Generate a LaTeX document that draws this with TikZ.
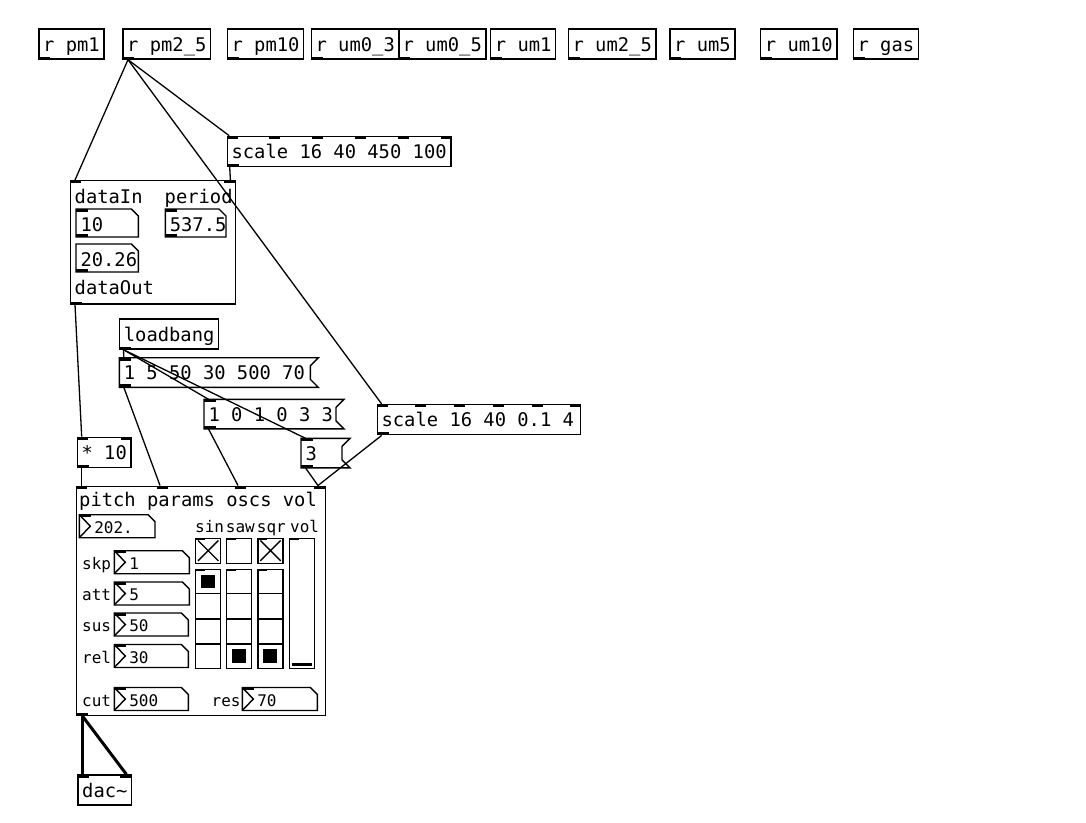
\documentclass[tikz,border=0pt]{standalone}
\usepackage{fontspec}
\usetikzlibrary{calc}
\newfontfamily\pdmono{DejaVu Sans Mono}
\newcommand\fbig{\pdmono\fontsize{18.8pt}{22pt}\selectfont}
\newcommand\fsmall{\pdmono\fontsize{16pt}{19pt}\selectfont}
\newcommand\fnum{\pdmono\fontsize{16pt}{19pt}\selectfont}
\newcommand\wbox[2]{\makebox[#1][l]{#2}}
\tikzset{
  obj/.style={draw, line width=1.4pt, anchor=north west, inner xsep=4.2pt, inner ysep=4pt, text height=18pt, text depth=4pt, font=\fbig},
  msgt/.style={anchor=north west, outer sep=0pt, inner xsep=4.5pt, inner ysep=4pt, text height=18pt, text depth=3.6pt, font=\fbig},
  atomt/.style={anchor=north west, outer sep=0pt, inner xsep=4.5pt, inner ysep=4pt, text height=18pt, text depth=2pt, font=\fbig},
  nbxt/.style={anchor=north west, outer sep=0pt, inner xsep=15pt, inner ysep=2pt, text height=16.8pt, text depth=2.2pt, font=\fnum},
  lbl/.style={anchor=base west, inner sep=0pt, font=\fbig},
  slbl/.style={anchor=base west, inner sep=0pt, font=\fsmall},
  gop/.style={draw, line width=1.4pt, anchor=north west, inner sep=0pt},
  gui/.style={draw, line width=1.4pt, anchor=north west, inner sep=0pt},
  bord/.style={line width=1.4pt},
  wire/.style={line width=1.3pt},
  sigwire/.style={line width=3pt},
}
\newcommand\msgshape[1]{\draw[bord] (#1.north west) -- ($(#1.north east)+(8,0)$) -- ($(#1.north east)+(0,8)$) -- ($(#1.south east)+(0,-8)$) -- ($(#1.south east)+(8,0)$) -- (#1.south west) -- cycle;}
\newcommand\atomshape[1]{\draw[bord] (#1.north west) -- ($(#1.north east)+(-7,0)$) -- ($(#1.north east)+(0,7)$) -- (#1.south east) -- (#1.south west) -- cycle;}
\newcommand\nbxshape[1]{\atomshape{#1}\draw[bord] (#1.north west) -- ($(#1.west)+(11,0)$) -- (#1.south west);\fill (#1.north west) rectangle ++(12,2.5);}
\newcommand\pdinl[2]{\fill ($(#1.north west)+(#2,0)$) rectangle ++(11,3);}
\newcommand\pdoutl[1]{\fill (#1.south west) rectangle ++(12,-3);}
\begin{document}
\begin{tikzpicture}[x=1pt,y=-1pt]
\useasboundingbox (0,0) rectangle (1086,822);
\fill[white] (0,0) rectangle (1086,822);

% ---------- top row of receives
\node[obj] (pm1) at (38.3,28.3) {r pm1};
\node[obj] (pm25) at (122.3,28.3) {r pm2\_5};
\node[obj] (pm10) at (226.7,28.3) {r pm10};
\node[obj] (um03) at (310.7,28.3) {r um0\_3};
\node[obj] (um05) at (397.7,28.3) {r um0\_5};
\node[obj] (um1) at (490,28.3) {r um1};
\node[obj] (um25) at (567.7,28.3) {r um2\_5};
\node[obj] (um5) at (669.3,28.3) {r um5};
\node[obj] (um10) at (760,28.3) {r um10};
\node[obj] (gas) at (852.7,28.3) {r gas};
\foreach \n in {pm1,pm25,pm10,um03,um05,um1,um25,um5,um10,gas} {\pdoutl{\n}}

% ---------- scale A
\node[obj] (sA) at (226.7,135.7) {scale 16 40 450 100};
\foreach \i in {0,...,5} {\fill ($(sA.north west)!\i/5!(sA.north east)+(-2.2*\i,0)$) rectangle ++(11,3);}
\pdoutl{sA}

% ---------- upper GOP
\node[gop, minimum width=165pt, minimum height=123.3pt] (gA) at (70,180) {};
\pdinl{gA}{0}\pdinl{gA}{154}\pdoutl{gA}
\node[lbl] (lin) at (74.5,203.3) {dataIn};
\node[lbl] (lper) at (164.5,203.3) {period};
\node[lbl] (lout) at (74.5,294) {dataOut};
\node[atomt] (nA) at (76,209) {\wbox{53.3pt}{10}};
\atomshape{nA}\fill (nA.north west) rectangle ++(12,3);\fill (nA.south west) rectangle ++(12,-3);
\node[atomt] (nB) at (165.3,209) {\wbox{51.7pt}{537.5}};
\atomshape{nB}\fill (nB.north west) rectangle ++(12,3);\fill (nB.south west) rectangle ++(12,-3);
\node[atomt] (nC) at (76,244) {\wbox{53.3pt}{20.26}};
\atomshape{nC}\fill (nC.south west) rectangle ++(12,-3);

% ---------- loadbang and messages
\node[obj] (lb) at (119,318.3) {loadbang};
\pdoutl{lb}
\node[msgt] (mA) at (119.3,357.7) {\wbox{182pt}{1 5 50 30 500 70}};
\msgshape{mA}\fill (mA.north west) rectangle ++(12,3);\fill (mA.south west) rectangle ++(12,-3);
\node[msgt] (mB) at (204,399.3) {\wbox{123pt}{1 0 1 0 3 3}};
\msgshape{mB}\fill (mB.north west) rectangle ++(12,3);\fill (mB.south west) rectangle ++(12,-3);
\node[msgt] (mC) at (301,438.3) {\wbox{32pt}{3}};
\msgshape{mC}\fill (mC.north west) rectangle ++(12,3);\fill (mC.south west) rectangle ++(12,-3);

% ---------- * 10 and scale B
\node[obj] (tm) at (76.7,436.7) {* 10};
\pdinl{tm}{0}\fill ($(tm.north east)+(-11,0)$) rectangle ++(11,3);\pdoutl{tm}
\node[obj, minimum width=203.3pt] (sB) at (376.7,404) {\wbox{194.9pt}{scale 16 40 0.1 4}};
\foreach \i in {0,...,5} {\fill ($(sB.north west)!\i/5!(sB.north east)+(-2.2*\i,0)$) rectangle ++(11,3);}
\pdoutl{sB}

% ---------- lower GOP
\node[gop, minimum width=249pt, minimum height=229.5pt] (gB) at (76,485.5) {};
\pdinl{gB}{0}\pdinl{gB}{81}\pdinl{gB}{159}\pdinl{gB}{238}
\fill (gB.south west) rectangle ++(12.3,-3.5);
\node[lbl] (lpitch) at (79,506.5) {pitch params oscs vol};
\node[nbxt] (n202) at (79.3,514.7) {\wbox{45.7pt}{202.}};
\nbxshape{n202}
\node[nbxt] (nskp) at (114.3,550.7) {\wbox{45pt}{1}};
\nbxshape{nskp}
\node[nbxt] (natt) at (114.3,582) {\wbox{45pt}{5}};
\nbxshape{natt}
\node[nbxt] (nsus) at (114.3,613) {\wbox{44pt}{50}};
\nbxshape{nsus}
\node[nbxt] (nrel) at (114.3,644.5) {\wbox{44pt}{30}};
\nbxshape{nrel}
\node[nbxt] (ncut) at (114.3,687.5) {\wbox{44pt}{500}};
\nbxshape{ncut}
\node[nbxt] (nres) at (242.3,687.5) {\wbox{45pt}{70}};
\nbxshape{nres}
\node[slbl] (lskp) at (82,569.5) {skp};
\node[slbl] (latt) at (82,600.8) {att};
\node[slbl] (lsus) at (82,631.8) {sus};
\node[slbl] (lrel) at (82,663.3) {rel};
\node[slbl] (lcut) at (82,706.3) {cut};
\node[slbl] (lres) at (211.5,706.3) {res};
\node[slbl] (lsin) at (195,532) {sin};
\node[slbl] (lsaw) at (225.7,532) {saw};
\node[slbl] (lsqr) at (256.7,532) {sqr};
\node[slbl] (lvol) at (290,532) {vol};

% toggles
\node[gui, minimum width=25pt, minimum height=25pt] (tsin) at (195,537.5) {};
\node[gui, minimum width=25pt, minimum height=25pt] (tsaw) at (226,537.5) {};
\node[gui, minimum width=25pt, minimum height=25pt] (tsqr) at (257.3,537.5) {};
\foreach \t in {tsin,tsaw,tsqr} {\fill (\t.north west) rectangle ++(10,2.5);}
\foreach \t in {tsin,tsqr} {\draw[bord] ($(\t.north west)+(3,3)$) -- ($(\t.south east)+(-3,-3)$) ($(\t.north east)+(-3,3)$) -- ($(\t.south west)+(3,-3)$);}

% radios
\node[gui, minimum width=25pt, minimum height=99.5pt] (rsin) at (195,568.5) {};
\node[gui, minimum width=25pt, minimum height=99.5pt] (rsaw) at (226,568.5) {};
\node[gui, minimum width=25pt, minimum height=99.5pt] (rsqr) at (257.3,568.5) {};
\foreach \r in {rsin,rsaw,rsqr} {
  \fill (\r.north west) rectangle ++(10,2.5);
  \foreach \f in {0.25,0.5,0.75} {\draw[bord] ($(\r.north west)!\f!(\r.south west)$) -- ($(\r.north east)!\f!(\r.south east)$);}
}
\fill ($(rsin.north west)+(5.5,6)$) rectangle ++(14,13.5);
\fill ($(rsaw.north west)+(5.5,80.6)$) rectangle ++(14,13.5);
\fill ($(rsqr.north west)+(5.5,80.6)$) rectangle ++(14,13.5);

% slider
\node[gui, minimum width=25pt, minimum height=130pt] (vsl) at (289,537.5) {};
\fill (vsl.north west) rectangle ++(10,2.5);
\draw[line width=3.5pt] ($(vsl.south west)+(3,-4.5)$) -- ($(vsl.south east)+(-3,-4.5)$);

% ---------- dac~
\node[obj] (dac) at (77.3,774.3) {dac\textasciitilde};
\fill (dac.north west) rectangle ++(12,4);
\fill ($(dac.north east)+(-12,0)$) rectangle ++(12,4);

% ---------- connection points
\coordinate (pm25o) at ($(pm25.south west)+(5.7,0)$);
\coordinate (gAi0) at ($(gA.north west)+(5,0)$);
\coordinate (gAi1) at ($(gA.north east)+(-6,0)$);
\coordinate (sAi0) at ($(sA.north west)+(2.5,0)$);
\coordinate (sAo) at ($(sA.south west)+(3,0)$);
\coordinate (sBi0) at ($(sB.north west)+(5,0)$);
\coordinate (sBo) at ($(sB.south west)+(5,0)$);
\coordinate (gAo) at ($(gA.south west)+(5,0)$);
\coordinate (tmi0) at ($(tm.north west)+(5,0)$);
\coordinate (tmo) at ($(tm.south west)+(5,0)$);
\coordinate (gBi0) at ($(gB.north west)+(5.7,0)$);
\coordinate (gBi1) at ($(gB.north west)+(84,0)$);
\coordinate (gBi2) at ($(gB.north west)+(162,0)$);
\coordinate (gBi3) at ($(gB.north west)+(242,0)$);
\coordinate (lbo) at ($(lb.south west)+(4.5,0)$);
\coordinate (mAi) at ($(mA.north west)+(4.5,0)$);
\coordinate (mAo) at ($(mA.south west)+(4.5,0)$);
\coordinate (mBi) at ($(mB.north west)+(4.5,0)$);
\coordinate (mBo) at ($(mB.south west)+(4.5,0)$);
\coordinate (mCi) at ($(mC.north west)+(4.5,0)$);
\coordinate (mCo) at ($(mC.south west)+(4.5,0)$);
\coordinate (gBo) at ($(gB.south west)+(6.7,0)$);
\coordinate (dci0) at ($(dac.north west)+(5.4,0)$);
\coordinate (dci1) at ($(dac.north east)+(-6,0)$);

% ---------- wires
\draw[wire] (pm25o) -- (gAi0);
\draw[wire] (pm25o) -- (sAi0);
\draw[wire] (pm25o) -- (sBi0);
\draw[wire] (sAo) -- (gAi1);
\draw[wire] (gAo) -- (tmi0);
\draw[wire] (tmo) -- (gBi0);
\draw[wire] (lbo) -- (mAi);
\draw[wire] (lbo) -- (mBi);
\draw[wire] (lbo) -- (mCi);
\draw[wire] (mAo) -- (gBi1);
\draw[wire] (mBo) -- (gBi2);
\draw[wire] (mCo) -- (gBi3);
\draw[wire] (sBo) -- (gBi3);
\draw[sigwire] (gBo) -- (dci0);
\draw[sigwire] (gBo) -- (dci1);
\end{tikzpicture}
\end{document}
